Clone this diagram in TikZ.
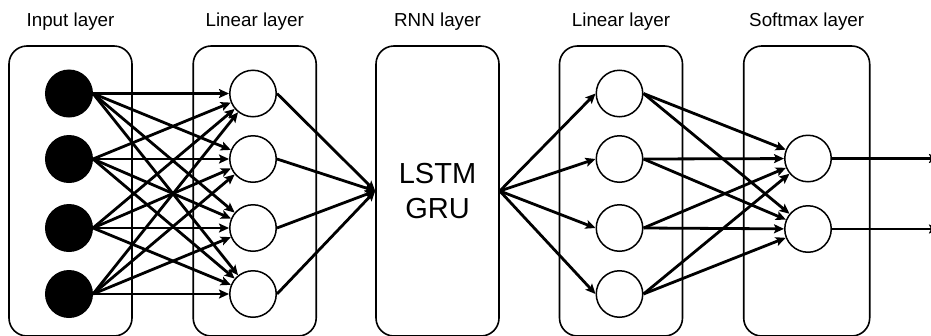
\documentclass[tikz,border=0pt]{standalone}
\usepackage{fontspec}
\setmainfont{Liberation Sans}
\usetikzlibrary{arrows.meta}
\begin{document}
\begin{tikzpicture}[x=1pt,y=-1pt,
  layerbox/.style={draw, line width=1.6pt, rounded corners=18pt, minimum width=123pt, minimum height=290pt, inner sep=0pt},
  inneuron/.style={circle, fill=black, draw=black, line width=1.5pt, minimum size=46.5pt, inner sep=0pt},
  neuron/.style={circle, fill=white, draw=black, line width=1.5pt, minimum size=46.5pt, inner sep=0pt},
  conn/.style={line width=2.8pt, -{Stealth[length=10pt,width=9pt,inset=2pt]}},
  lbl/.style={font=\fontsize{18.8}{22}\selectfont, anchor=base}]
\useasboundingbox (0,0) rectangle (931,335);
\clip (0,0) rectangle (931,335);
% layer boxes
\node[layerbox] (bin) at (70.5,191) {};
\node[layerbox] (bl1) at (254.7,191) {};
\node[layerbox, align=center, font=\fontsize{29}{35}\selectfont] (rnn) at (437.5,191) {LSTM\\GRU};
\node[layerbox] (bl2) at (621,191) {};
\node[layerbox, minimum width=126pt] (bsm) at (806.7,191) {};
% labels
\node[lbl] (t1) at (70.5,26.7) {Input layer};
\node[lbl] (t2) at (254.7,26.7) {Linear layer};
\node[lbl] (t3) at (437.5,26.7) {RNN layer};
\node[lbl] (t4) at (621,26.7) {Linear layer};
\node[lbl] (t5) at (806.7,26.7) {Softmax layer};
% neurons
\foreach \i/\y in {1/93.5,2/159,3/228,4/294} {
  \node[inneuron] (a\i) at (69,\y) {};
  \node[neuron] (b\i) at (253,\y) {};
  \node[neuron] (c\i) at (619.5,\y) {};
}
\node[neuron] (s1) at (808,158.5) {};
\node[neuron] (s2) at (808,229) {};
\coordinate (o1) at (939,158.5);
\coordinate (o2) at (939,229);
% connections
\foreach \i in {1,...,4} {
  \foreach \j in {1,...,4} {
    \draw[conn] (a\i.east) -- (b\j);
  }
  \draw[conn] (b\i.east) -- (rnn.west);
  \draw[conn] (rnn.east) -- (c\i.west);
  \foreach \j in {1,2} {
    \draw[conn] (c\i.east) -- (s\j);
  }
}
\draw[conn] (s1.east) -- (o1);
\draw[conn] (s2.east) -- (o2);
\end{tikzpicture}
\end{document}
